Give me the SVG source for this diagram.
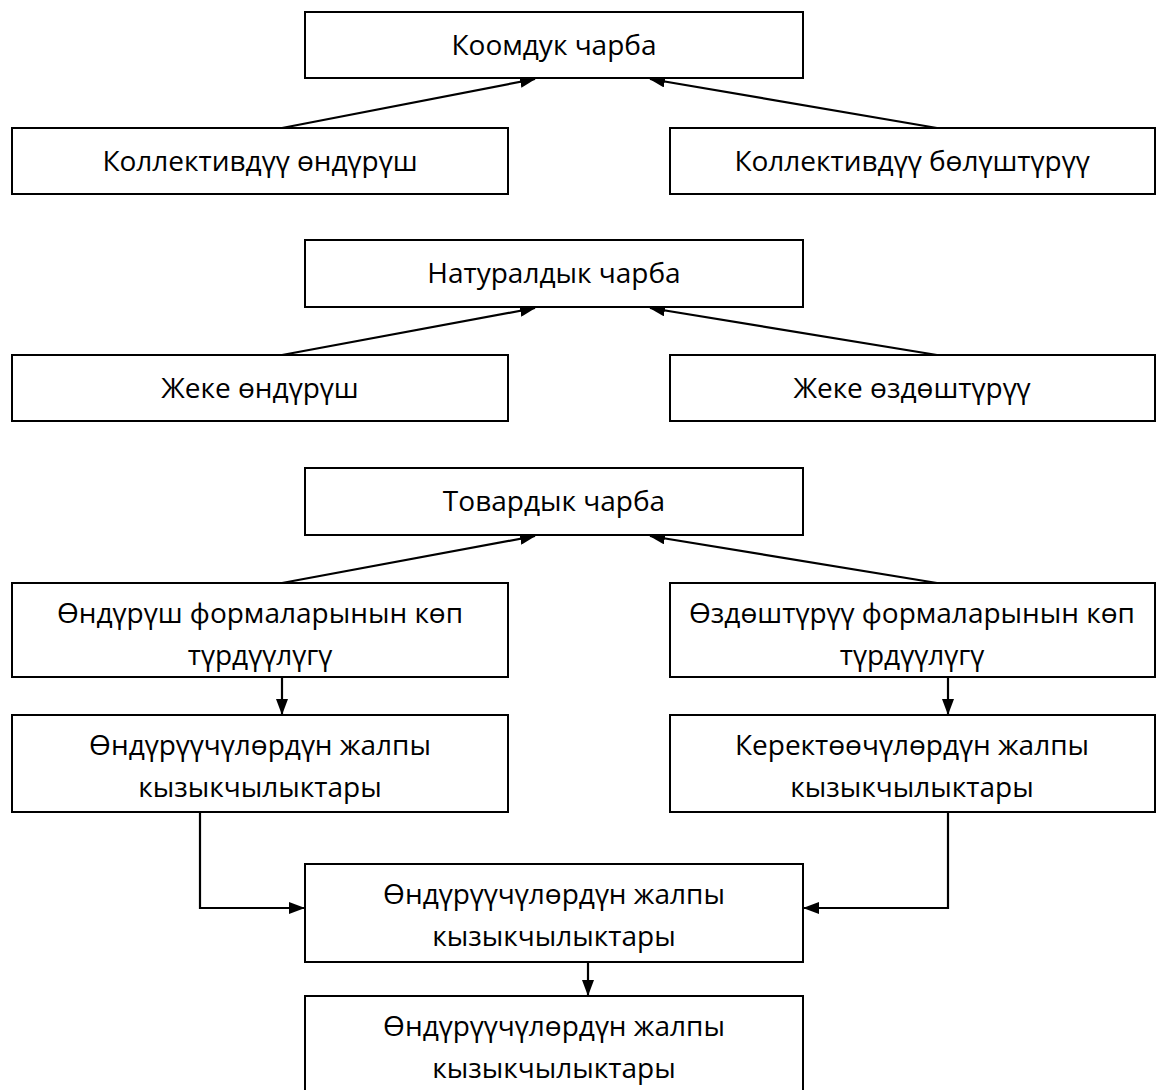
<svg xmlns="http://www.w3.org/2000/svg" width="1156" height="1090" viewBox="0 0 1156 1090">
<defs>
<style>
.box{fill:#fff;stroke:#000;stroke-width:2}
.t{font-family:"Open Sans","Noto Sans","DejaVu Sans",sans-serif;font-size:28px;fill:#000;text-anchor:middle}
.c{fill:none;stroke:#000;stroke-width:2.2}
</style>
<marker id="ah" markerUnits="userSpaceOnUse" markerWidth="16" markerHeight="12" refX="15" refY="6" orient="auto">
<path d="M0,0 L16,6 L0,12 Z" fill="#000"/>
</marker>
</defs>
<rect width="1156" height="1090" fill="#fff"/>

<g id="connectors">
<line class="c" x1="282" y1="128" x2="535" y2="79" marker-end="url(#ah)"/>
<line class="c" x1="937" y1="128" x2="650" y2="79" marker-end="url(#ah)"/>
<line class="c" x1="282" y1="355" x2="535" y2="308" marker-end="url(#ah)"/>
<line class="c" x1="937" y1="355" x2="650" y2="308" marker-end="url(#ah)"/>
<line class="c" x1="282" y1="583" x2="535" y2="536" marker-end="url(#ah)"/>
<line class="c" x1="937" y1="583" x2="650" y2="536" marker-end="url(#ah)"/>
<line class="c" x1="282" y1="677" x2="282" y2="714" marker-end="url(#ah)"/>
<line class="c" x1="948" y1="677" x2="948" y2="714" marker-end="url(#ah)"/>
<polyline class="c" points="200,812 200,908 304,908" marker-end="url(#ah)"/>
<polyline class="c" points="948,812 948,908 804,908" marker-end="url(#ah)"/>
<line class="c" x1="588" y1="962" x2="588" y2="995" marker-end="url(#ah)"/>
</g>

<g id="n1"><rect class="box" x="305" y="12" width="498" height="66"/><text class="t" x="554" y="55">Коомдук чарба</text></g>
<g id="n2"><rect class="box" x="12" y="128" width="496" height="66"/><text class="t" x="260" y="171">Коллективдүү өндүрүш</text></g>
<g id="n3"><rect class="box" x="670" y="128" width="485" height="66"/><text class="t" x="912" y="171">Коллективдүү бөлүштүрүү</text></g>

<g id="n4"><rect class="box" x="305" y="240" width="498" height="67"/><text class="t" x="554" y="283">Натуралдык чарба</text></g>
<g id="n5"><rect class="box" x="12" y="355" width="496" height="66"/><text class="t" x="260" y="398">Жеке өндүрүш</text></g>
<g id="n6"><rect class="box" x="670" y="355" width="485" height="66"/><text class="t" x="912" y="398">Жеке өздөштүрүү</text></g>

<g id="n7"><rect class="box" x="305" y="468" width="498" height="67"/><text class="t" x="554" y="511">Товардык чарба</text></g>
<g id="n8"><rect class="box" x="12" y="583" width="496" height="94"/><text class="t" x="260" y="623">Өндүрүш формаларынын көп</text><text class="t" x="260" y="665">түрдүүлүгү</text></g>
<g id="n9"><rect class="box" x="670" y="583" width="485" height="94"/><text class="t" x="912" y="623">Өздөштүрүү формаларынын көп</text><text class="t" x="912" y="665">түрдүүлүгү</text></g>

<g id="n10"><rect class="box" x="12" y="715" width="496" height="97"/><text class="t" x="260" y="755">Өндүрүүчүлөрдүн жалпы</text><text class="t" x="260" y="797">кызыкчылыктары</text></g>
<g id="n11"><rect class="box" x="670" y="715" width="485" height="97"/><text class="t" x="912" y="755">Керектөөчүлөрдүн жалпы</text><text class="t" x="912" y="797">кызыкчылыктары</text></g>

<g id="n12"><rect class="box" x="305" y="864" width="498" height="98"/><text class="t" x="554" y="904">Өндүрүүчүлөрдүн жалпы</text><text class="t" x="554" y="946">кызыкчылыктары</text></g>
<g id="n13"><rect class="box" x="305" y="996" width="498" height="100"/><text class="t" x="554" y="1036">Өндүрүүчүлөрдүн жалпы</text><text class="t" x="554" y="1078">кызыкчылыктары</text></g>
</svg>
